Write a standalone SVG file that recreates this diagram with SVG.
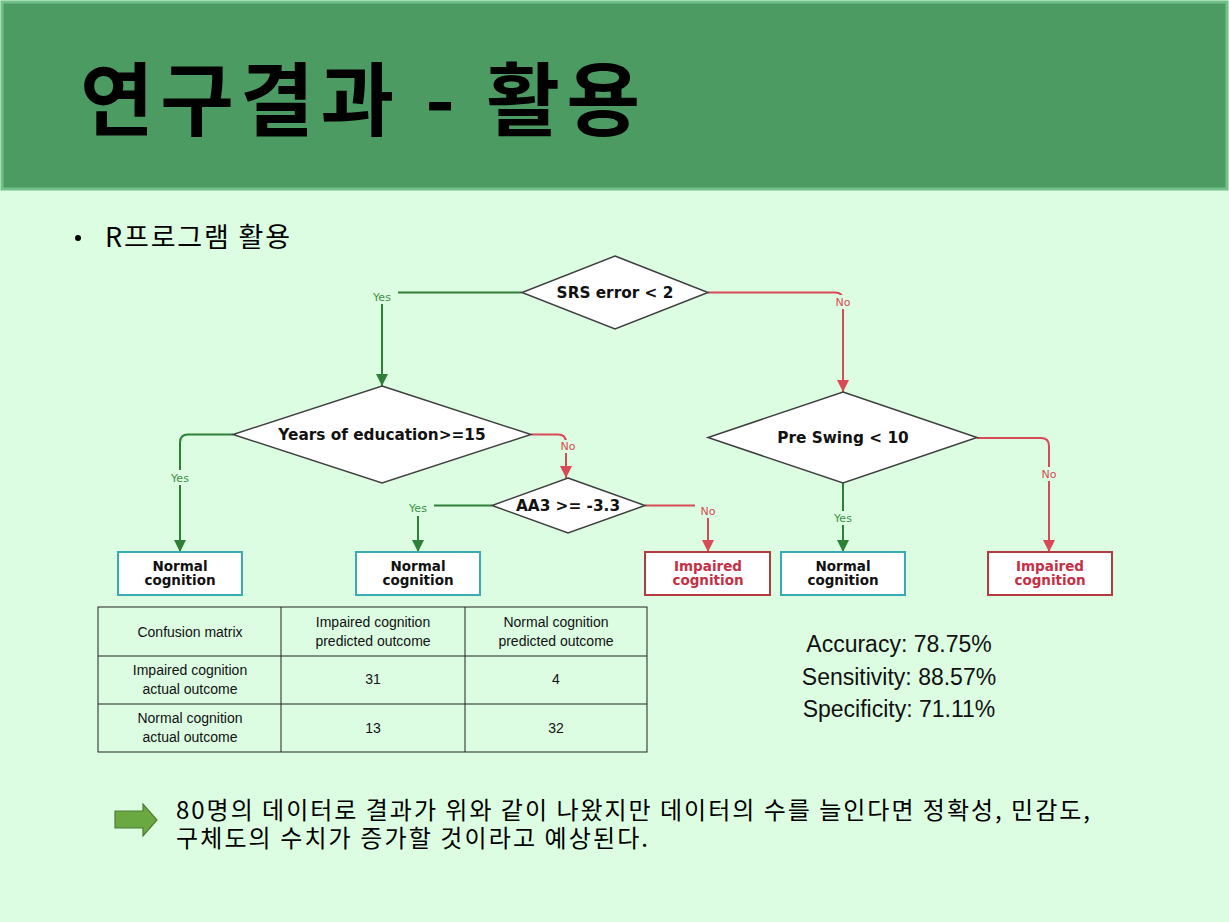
<svg xmlns="http://www.w3.org/2000/svg" width="1229" height="922" viewBox="0 0 1229 922">
<defs>
<style>
.bg{fill:#dcfde2}
.dia{fill:#ffffff;stroke:#3f3f3f;stroke-width:1.5}
.dt{font-family:"DejaVu Sans",sans-serif;font-weight:bold;font-size:15.3px;fill:#111;text-anchor:middle}
.bt{font-family:"DejaVu Sans",sans-serif;font-weight:bold;font-size:13.5px;text-anchor:middle}
.nbox{fill:#ffffff;stroke:#3aaab3;stroke-width:2}
.ibox{fill:#ffffff;stroke:#b33a3f;stroke-width:2}
.g{fill:none;stroke:#2e8036;stroke-width:2}
.r{fill:none;stroke:#d84a55;stroke-width:2}
.lbl{font-family:"DejaVu Sans",sans-serif;font-size:11px;text-anchor:middle}
.tt{font-family:"Liberation Sans",sans-serif;font-size:14px;fill:#111;text-anchor:middle}
.st{font-family:"Liberation Sans",sans-serif;font-size:23px;fill:#111;text-anchor:middle}
.kr{font-family:"Noto Sans CJK KR",sans-serif;fill:#000}
</style>
<marker id="ag" markerUnits="userSpaceOnUse" markerWidth="14" markerHeight="12" refX="12" refY="6" orient="auto"><path d="M0,0 L12,6 L0,12 Z" fill="#2e8036"/></marker>
<marker id="ar" markerUnits="userSpaceOnUse" markerWidth="14" markerHeight="12" refX="12" refY="6" orient="auto"><path d="M0,0 L12,6 L0,12 Z" fill="#d84a55"/></marker>
</defs>
<rect class="bg" x="0" y="0" width="1229" height="922"/>
<g id="header">
<rect x="2" y="2" width="1225" height="187" fill="#4b9b63" stroke="#72c08a" stroke-width="3"/>
<text class="kr" x="80" y="129" font-size="80" font-weight="bold" textLength="560" lengthAdjust="spacing">연구결과 - 활용</text>
</g>
<g id="bullet">
<circle cx="78" cy="238" r="3" fill="#000"/>
<text class="kr" x="105" y="247" font-size="27" textLength="185" lengthAdjust="spacing">R프로그램 활용</text>
</g>
<g id="connectors">
<path class="g" d="M522,292.5 H382 V386" marker-end="url(#ag)"/>
<path class="r" d="M708,292.5 H835 Q843,292.5 843,300.5 V392" marker-end="url(#ar)"/>
<path class="g" d="M233,434.5 H188 Q180,434.5 180,442.5 V552" marker-end="url(#ag)"/>
<path class="r" d="M531,434.5 H558 Q566,434.5 566,442.5 V478" marker-end="url(#ar)"/>
<path class="g" d="M492,505.5 H418 V552" marker-end="url(#ag)"/>
<path class="r" d="M645,505.5 H708 V552" marker-end="url(#ar)"/>
<path class="g" d="M843,483 V552" marker-end="url(#ag)"/>
<path class="r" d="M977,438 H1041 Q1049,438 1049,446 V552" marker-end="url(#ar)"/>
</g>
<g id="edge-labels">
<rect class="bg" x="366" y="289" width="32" height="15"/><text class="lbl" x="382" y="301" fill="#3d8f45">Yes</text>
<rect class="bg" x="830" y="295" width="26" height="14"/><text class="lbl" x="843" y="306" fill="#d84a55">No</text>
<rect class="bg" x="164" y="470" width="32" height="15"/><text class="lbl" x="180" y="482" fill="#3d8f45">Yes</text>
<rect class="bg" x="555" y="440" width="26" height="13"/><text class="lbl" x="568" y="450" fill="#d84a55">No</text>
<rect class="bg" x="402" y="502" width="32" height="14"/><text class="lbl" x="418" y="512" fill="#3d8f45">Yes</text>
<rect class="bg" x="695" y="504" width="26" height="14"/><text class="lbl" x="708" y="515" fill="#d84a55">No</text>
<rect class="bg" x="827" y="511" width="32" height="14"/><text class="lbl" x="843" y="522" fill="#3d8f45">Yes</text>
<rect class="bg" x="1036" y="467" width="26" height="14"/><text class="lbl" x="1049" y="478" fill="#d84a55">No</text>
</g>
<g id="srs">
<polygon class="dia" points="615,256 708,292.5 615,329 522,292.5"/>
<text class="dt" x="615" y="297.5">SRS error &lt; 2</text>
</g>
<g id="years">
<polygon class="dia" points="382,386 531,434.5 382,483 233,434.5"/>
<text class="dt" x="382" y="440">Years of education&gt;=15</text>
</g>
<g id="aa3">
<polygon class="dia" points="568,478 645,505.5 568,533 492,505.5"/>
<text class="dt" x="568" y="511">AA3 &gt;= -3.3</text>
</g>
<g id="preswing">
<polygon class="dia" points="843,392 977,437.5 843,483 708,437.5"/>
<text class="dt" x="843" y="443">Pre Swing &lt; 10</text>
</g>
<g id="normal1">
<rect class="nbox" x="118" y="552" width="124" height="43"/>
<text class="bt" x="180" y="571" fill="#111">Normal</text>
<text class="bt" x="180" y="585" fill="#111">cognition</text>
</g>
<g id="normal2">
<rect class="nbox" x="356" y="552" width="124" height="43"/>
<text class="bt" x="418" y="571" fill="#111">Normal</text>
<text class="bt" x="418" y="585" fill="#111">cognition</text>
</g>
<g id="impaired1">
<rect class="ibox" x="645" y="552" width="125" height="43"/>
<text class="bt" x="708" y="571" fill="#c62f45">Impaired</text>
<text class="bt" x="708" y="585" fill="#c62f45">cognition</text>
</g>
<g id="normal3">
<rect class="nbox" x="781" y="552" width="124" height="43"/>
<text class="bt" x="843" y="571" fill="#111">Normal</text>
<text class="bt" x="843" y="585" fill="#111">cognition</text>
</g>
<g id="impaired2">
<rect class="ibox" x="988" y="552" width="124" height="43"/>
<text class="bt" x="1050" y="571" fill="#c62f45">Impaired</text>
<text class="bt" x="1050" y="585" fill="#c62f45">cognition</text>
</g>
<g id="table">
<g stroke="#222" stroke-width="1" fill="none">
<rect x="98" y="607" width="549" height="145"/>
<line x1="98" y1="656" x2="647" y2="656"/>
<line x1="98" y1="704" x2="647" y2="704"/>
<line x1="281" y1="607" x2="281" y2="752"/>
<line x1="465" y1="607" x2="465" y2="752"/>
</g>
<text class="tt" x="190" y="637">Confusion matrix</text>
<text class="tt" x="373" y="627">Impaired cognition</text>
<text class="tt" x="373" y="646">predicted outcome</text>
<text class="tt" x="556" y="627">Normal cognition</text>
<text class="tt" x="556" y="646">predicted outcome</text>
<text class="tt" x="190" y="675">Impaired cognition</text>
<text class="tt" x="190" y="694">actual outcome</text>
<text class="tt" x="373" y="684">31</text>
<text class="tt" x="556" y="684">4</text>
<text class="tt" x="190" y="723">Normal cognition</text>
<text class="tt" x="190" y="742">actual outcome</text>
<text class="tt" x="373" y="733">13</text>
<text class="tt" x="556" y="733">32</text>
</g>
<g id="stats">
<text class="st" x="899" y="652">Accuracy: 78.75%</text>
<text class="st" x="899" y="685">Sensitivity: 88.57%</text>
<text class="st" x="899" y="717">Specificity: 71.11%</text>
</g>
<g id="note">
<polygon points="115,811 143,811 143,804 157,820 143,836 143,828 115,828" fill="#6aa842" stroke="#4d7d33" stroke-width="1.2"/>
<text class="kr" font-size="24"><tspan x="176" y="819" textLength="914" lengthAdjust="spacing">80명의 데이터로 결과가 위와 같이 나왔지만 데이터의 수를 늘인다면 정확성, 민감도,</tspan><tspan x="176" y="847" textLength="472" lengthAdjust="spacing">구체도의 수치가 증가할 것이라고 예상된다.</tspan></text>
</g>
</svg>
